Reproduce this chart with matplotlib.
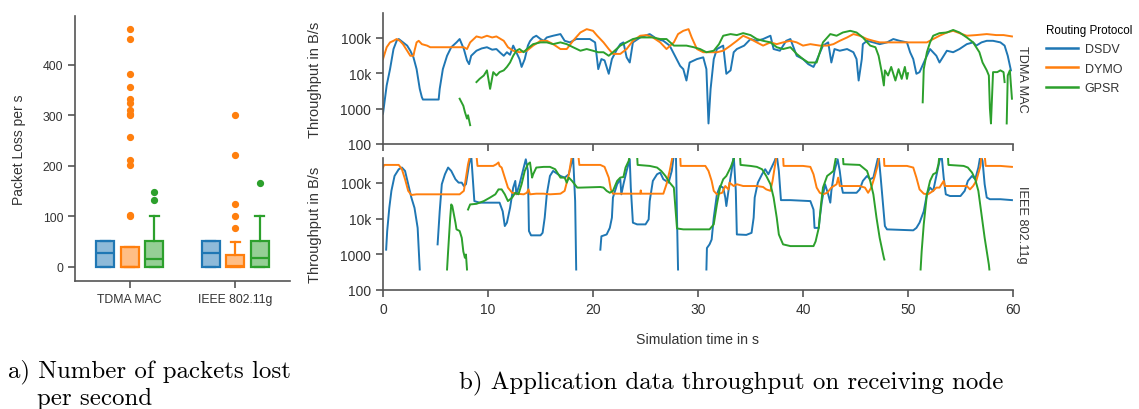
import numpy as np
import matplotlib
matplotlib.use("Agg")
import matplotlib.pyplot as plt
from matplotlib.colors import to_rgba
from matplotlib.lines import Line2D
from matplotlib.ticker import NullLocator

NaN = float("nan")

# ---------------- data ----------------
protocols = ["DSDV", "DYMO", "GPSR"]
colors = ["#1f77b4", "#ff7f0e", "#2ca02c"]
macs = ["TDMA MAC", "IEEE 802.11g"]

# packet loss box statistics, [mac][protocol]
loss_whislo = [[0, 0, 0], [0, 0, 0]]
loss_q1 = [[0, 0, 0], [0, 0, 0]]
loss_med = [[27, 0, 16], [27, 2, 18]]
loss_q3 = [[51, 39, 51], [51, 23, 51]]
loss_whishi = [[51, 39, 100], [51, 49, 100]]
loss_fliers = [
    [[], [472, 451, 383, 357, 333, 324, 310, 303, 300, 258, 212, 201, 103, 101], [148, 132]],
    [[], [300, 222, 125, 101, 77], [167]],
]

# throughput, TDMA MAC
tdma_dsdv_t = [0.0, 0.35, 0.67, 1.0, 1.3, 1.5, 1.9, 2.3, 2.6, 2.9, 3.2, 3.5, 3.7, 3.8, 5.3, 5.4, 5.7, 6.1, 6.5, 7.0,
               7.3, 7.7, 8.0, 8.2, 8.4, 8.9, 9.4, 9.9, 10.4, 10.8, 11.2, 11.5, 11.8, 12.1, 12.4, 13.0, 13.2, 13.5,
               13.8, 14.0, 14.3, 14.6, 15.0, 15.3, 15.6, 16.2, 16.9, 17.3, 17.8, 18.4, 19.1, 19.7, 20.2, 20.5, 20.8,
               21.1, 21.5, 21.8, 22.3, 22.6, 22.9, 23.2, 23.5, 23.8, 24.5, 25.4, 26.1, 26.7, 27.3, 27.8, 28.3, 28.6,
               28.9, 29.2, 29.9, 30.5, 30.8, 31.0, 31.2, 31.5, 31.8, 32.4, 32.7, 33.1, 33.4, 33.7, 34.4, 35.0, 35.6,
               36.2, 36.9, 37.2, 37.8, 38.4, 38.8, 39.4, 40.0, 40.5, 41.0, 41.3, 41.9, 42.4, 42.7, 43.0, 43.5, 44.2,
               44.8, 45.1, 45.3, 45.6, 45.7, 46.1, 46.7, 47.3, 48.0, 48.6, 49.2, 49.9, 50.2, 50.5, 50.8, 51.1, 51.6,
               52.1, 52.7, 53.0, 53.7, 54.3, 54.9, 55.6, 56.2, 56.5, 57.0, 57.5, 58.1, 58.8, 59.2, 59.5, 59.8]
tdma_dsdv_v = [720, 4500, 13000, 48000, 82000, 92000, 74000, 60000, 43000, 28000, 13000, 3600, 2100, 1800, 1800,
               3600, 13000, 31000, 54000, 74000, 92000, 48000, 23000, 18000, 31000, 43000, 50000, 54000, 46000,
               48000, 37000, 31000, 39000, 33000, 60000, 25000, 15000, 25000, 60000, 80000, 102000, 114000, 92000,
               82000, 102000, 114000, 127000, 82000, 74000, 92000, 92000, 92000, 74000, 13000, 25000, 23000, 9600,
               25000, 48000, 66000, 74000, 28000, 20000, 74000, 102000, 127000, 92000, 82000, 60000, 31000, 16000,
               13000, 6200, 20000, 25000, 28000, 13000, 380, 3600, 25000, 48000, 60000, 9600, 12000, 39000, 48000,
               60000, 92000, 82000, 92000, 114000, 48000, 43000, 82000, 92000, 31000, 25000, 18000, 15000, 23000,
               60000, 74000, 20000, 48000, 43000, 48000, 39000, 25000, 6200, 25000, 66000, 82000, 74000, 66000,
               74000, 92000, 82000, 74000, 39000, 25000, 9600, 10700, 23000, 48000, 31000, 20000, 43000, 39000,
               48000, 66000, 74000, 60000, 74000, 82000, 82000, 74000, 60000, 31000, 12000]

tdma_dymo_t = [0.0, 0.35, 0.67, 1.0, 1.3, 1.6, 1.9, 2.3, 2.6, 2.9, 3.0, 3.2, 3.4, 3.7, 4.2, 4.5, 7.7, 8.0, 8.3, 8.9,
               9.4, 9.9, 10.4, 10.8, 11.5, 11.9, 12.4, 13.0, 13.7, 14.3, 15.0, 15.6, 16.2, 16.9, 17.5, 18.1, 18.8,
               19.4, 20.0, 20.4, 21.0, 21.5, 21.9, 22.6, 23.2, 23.8, 24.5, 25.1, 25.7, 26.4, 27.0, 27.7, 28.1, 28.6,
               29.1, 29.4, 29.9, 30.5, 31.1, 31.8, 32.4, 33.1, 33.7, 34.3, 35.0, 35.6, 36.2, 36.9, 37.5, 38.1, 38.8,
               39.4, 40.0, 40.7, 41.6, 42.3, 42.9, 43.5, 44.2, 44.8, 45.4, 46.1, 46.7, 47.3, 48.6, 49.9, 51.2, 51.8,
               52.4, 53.0, 53.7, 54.3, 54.9, 55.6, 56.5, 57.5, 58.4, 59.1, 59.9]
tdma_dymo_v = [25000, 54000, 74000, 82000, 92000, 82000, 66000, 43000, 31000, 31000, 43000, 74000, 82000, 66000,
               60000, 54000, 54000, 48000, 74000, 109000, 100000, 114000, 102000, 109000, 82000, 54000, 43000,
               39000, 43000, 60000, 82000, 82000, 66000, 48000, 48000, 82000, 141000, 175000, 157000, 114000,
               74000, 48000, 35000, 35000, 48000, 82000, 114000, 119000, 102000, 74000, 48000, 74000, 127000,
               157000, 175000, 102000, 48000, 39000, 39000, 39000, 43000, 60000, 82000, 114000, 92000, 74000,
               60000, 74000, 66000, 74000, 82000, 74000, 60000, 66000, 60000, 60000, 66000, 82000, 102000, 127000,
               114000, 92000, 82000, 74000, 74000, 74000, 74000, 74000, 92000, 114000, 141000, 157000, 135000,
               114000, 119000, 127000, 119000, 119000, 109000]

tdma_gpsr_t = [7.3, 7.65, 7.8, 8.0, 8.1, 8.3, 8.6,
               8.9, 9.2, 9.6, 9.9, 10.2, 10.5, 10.8, 11.1, 11.5, 11.8, 12.1, 12.4, 12.7, 13.0, 13.4, 13.7, 14.3,
               15.0, 15.6, 16.2, 16.9, 17.5, 18.1, 18.8, 19.4, 20.0, 20.5, 21.0, 21.5, 21.9, 22.6, 23.2, 23.8, 24.5,
               25.1, 25.7, 26.4, 27.0, 27.7, 28.3, 28.9, 29.6, 30.2, 30.8, 31.5, 32.0, 32.4, 33.1, 33.7, 34.3, 35.0,
               35.6, 36.2, 36.9, 37.5, 38.1, 38.8, 39.4, 40.0, 40.5, 41.0, 41.3, 41.6, 41.9, 42.6, 43.2, 43.8, 44.5,
               45.1, 45.7, 46.4, 46.9, 47.2, 47.5, 47.7, 47.8, 48.1, 48.4, 48.8, 49.1, 49.4, 49.7, 49.9, 50.0, 50.5,
               51.4, 51.5, 51.8, 52.1, 52.4, 53.0, 53.7, 54.3, 54.9, 55.6, 56.2, 56.8, 57.1, 57.5, 57.7, 57.8, 57.9,
               58.1, 58.5, 58.8, 59.1, 59.2, 59.3,
               59.4, 59.5, 59.7, 59.9]
tdma_gpsr_v = [1900, 1200, 800, 520, 650, 340, NaN,
               5600, 6900, 8600, 12000, 3600, 10700, 8600, 10700, 12000, 15000, 20000, 31000, 43000, 48000, 39000,
               48000, 66000, 74000, 74000, 66000, 74000, 66000, 54000, 43000, 48000, 43000, 39000, 39000, 31000,
               39000, 60000, 74000, 92000, 102000, 102000, 102000, 92000, 92000, 60000, 60000, 60000, 54000, 48000,
               39000, 43000, 66000, 114000, 127000, 119000, 135000, 119000, 92000, 82000, 74000, 54000, 48000,
               54000, 35000, 25000, 20000, 20000, 20000, 39000, 74000, 127000, 114000, 141000, 157000, 141000,
               102000, 60000, 54000, 31000, 10700, 4500, 12000, 8600, 15000, 6200, 13000, 6900, 15000, 6900, 10000,
               NaN,
               1500, 13000, 39000, 74000, 114000, 135000, 141000, 166000, 141000, 102000, 74000, 39000, 20000,
               12000, 8600, 1000, 380, 10700, 10700, 12000, 10700, 5600, NaN,
               380, 8600, 12000, 1900]

# throughput, IEEE 802.11g
ieee_dsdv_t = [0.3, 0.4, 0.6, 0.8, 1.1, 1.5, 1.8, 2.1, 2.4, 2.7, 3.0, 3.3, 3.4, 3.5, 4.0,
               5.2, 5.4, 5.6, 5.9, 6.2, 6.5, 6.9, 7.2, 7.5, 7.7, 7.9, 8.2, 8.4, 8.5, 8.7, 9.2, 10.5, 11.1, 11.4,
               11.6, 11.8, 12.1, 12.4, 12.6, 12.7, 13.0, 13.4, 13.6, 13.8, 13.9, 14.1, 15.0, 15.2, 15.4, 15.6, 15.9,
               16.2, 16.9, 17.3, 17.7, 18.0, 18.1, 18.3, 18.4, 19.0,
               20.7, 20.8, 21.3, 21.6, 21.8, 21.9, 22.3, 22.6, 22.7, 22.9, 23.2, 23.5, 23.6, 23.8, 24.2, 25.0, 25.3,
               25.4, 25.7, 26.1, 26.4, 26.7, 27.2, 27.5, 27.7, 27.9, 28.0, 28.1, 29.0,
               30.8, 30.85, 31.1, 31.3, 31.5, 31.8, 32.1, 32.4, 32.6, 32.7, 32.9, 33.2, 33.4, 33.6, 33.7, 34.6, 35.1,
               35.3, 35.4, 35.7, 36.1, 36.4, 36.7, 37.0, 37.3, 37.5, 37.7, 37.9, 38.8, 40.7, 41.0, 41.1, 41.5, 41.6,
               41.8, 42.1, 42.4, 42.6, 42.7, 43.0, 43.3, 43.5, 43.7, 43.8, 45.1, 45.4, 45.7, 46.1, 46.4, 46.7, 47.0,
               47.2, 47.4, 47.7, 47.8, 48.0, 50.5, 50.8, 51.1, 51.5, 51.8, 52.1, 52.4, 52.7, 53.0, 53.2, 53.4, 53.6,
               54.0, 55.0, 55.4, 55.7, 56.1, 56.4, 56.7, 56.9, 57.1, 57.3, 57.5, 57.8, 58.8, 59.9]
ieee_dsdv_v = [1350, 4500, 20000, 60000, 157000, 242000, 270000, 217000, 92000, 39000, 20000, 5500, 1500, 375, NaN,
               1900, 16000, 92000, 175000, 270000, 217000, 127000, 102000, 102000, 82000, 92000, 335000, 600000,
               217000, 31000, 28000, 28000, 28000, 16000, 6200, 7700, 20000, 74000, 114000, 48000, 92000, 270000,
               460000, 217000, 4500, 3400, 3400, 4000, 10600, 48000, 157000, 217000, 157000, 141000, 175000,
               415000, 600000, 31000, 375, NaN,
               1350, 3200, 3600, 5500, 10600, 39000, 92000, 127000, 48000, 92000, 217000, 460000, 74000, 7700,
               6900, 6900, 9500, 31000, 114000, 175000, 195000, 127000, 102000, 217000, 600000, 600000, 10600, 375,
               NaN,
               375, 1500, 1900, 2600, 10600, 48000, 82000, 74000, 39000, 22500, 60000, 217000, 600000, 60000, 3600,
               3500, 4000, 10600, 39000, 102000, 175000, 242000, 175000, 270000, 415000, 600000, 217000, 33000,
               33000, 31000, 18000, 5500, 5500, 10600, 31000, 92000, 48000, 28000, 60000, 217000, 460000, 217000,
               74000, 53000, 53000, 66000, 114000, 157000, 127000, 141000, 335000, 600000, 141000, 13000, 6200,
               5000, 4700, 5500, 7700, 16000, 48000, 74000, 60000, 157000, 415000, 600000, 141000, 48000, 43000,
               43000, 60000, 114000, 157000, 127000, 270000, 600000, 415000, 92000, 39000, 35000, 35000, 33000]

ieee_dymo_t = [0.0, 0.1, 0.7, 1.5, 1.8, 2.1, 2.4, 2.7, 3.2, 4.5, 6.1, 7.3, 7.7, 7.9, 8.1, 8.3, 8.9, 9.0, 10.5, 10.8,
               11.0, 11.1, 11.3, 11.6, 11.9, 12.3, 12.7, 13.4, 13.7, 13.85, 14.0, 14.6, 15.3, 15.9, 16.9, 17.3, 17.7,
               18.0, 18.6, 18.7, 19.4, 20.7, 21.1, 21.5, 21.7, 21.9, 22.9, 24.5, 24.55, 24.6, 26.7, 27.0, 27.3, 27.6,
               28.3, 28.35, 29.2, 30.7, 31.0, 31.3, 31.5, 31.8, 32.3, 32.6, 32.9, 33.0, 33.4, 33.7, 34.3, 35.6, 36.2,
               36.5, 36.9, 37.1, 37.3, 37.5, 38.1, 38.15, 40.0, 40.7, 41.0, 41.3, 41.6, 41.9, 42.3, 42.7, 43.2,
               43.35, 43.5, 43.8, 45.4, 45.9, 46.2, 46.5, 46.8, 47.1, 47.3, 47.7, 47.75, 49.9, 50.5, 50.8, 51.1,
               51.5, 51.9, 52.4, 52.7, 53.0, 53.4, 53.5, 54.0, 55.6, 55.9, 56.2, 56.5, 56.9, 57.0, 57.3, 57.4, 58.8,
               59.9]
ieee_dymo_v = [270000, 320000, 320000, 320000, 242000, 127000, 60000, 46000, 48000, 48000, 48000, 48000, 60000,
               141000, 335000, 600000, 600000, 300000, 300000, 335000, 375000, 300000, 270000, 141000, 74000, 53000,
               50000, 48000, 53000, 66000, 48000, 50000, 50000, 48000, 50000, 60000, 175000, 600000, 600000, 320000,
               320000, 320000, 282000, 141000, 66000, 50000, 50000, 50000, 62000, 50000, 50000, 92000, 217000,
               600000, 600000, 300000, 300000, 300000, 217000, 114000, 60000, 48000, 53000, 82000, 66000, 102000,
               82000, 92000, 82000, 82000, 77000, 66000, 60000, 114000, 270000, 600000, 600000, 300000, 300000,
               282000, 175000, 74000, 53000, 48000, 53000, 74000, 92000, 141000, 82000, 82000, 82000, 74000, 53000,
               74000, 141000, 300000, 600000, 600000, 300000, 300000, 270000, 141000, 66000, 50000, 48000, 60000,
               74000, 74000, 114000, 82000, 82000, 82000, 66000, 82000, 114000, 300000, 600000, 600000, 300000,
               300000, 282000]

ieee_gpsr_t = [6.1, 6.2, 6.4, 6.5, 6.6, 6.9, 7.0, 7.3, 7.5, 7.65, 7.8, 7.9, 8.0, 8.05,
               8.1, 8.3, 8.9, 9.6, 10.2, 10.7, 11.0, 11.3, 11.6, 11.9, 12.3, 12.6, 12.9, 13.2, 13.5, 13.8, 14.0,
               14.2, 14.3, 14.6, 15.3, 15.9, 16.4, 16.9, 17.3, 17.5, 17.7, 18.0, 18.5, 18.8, 20.7, 21.0, 21.3, 21.6,
               21.9, 22.3, 22.6, 22.9, 23.1, 23.4, 23.5, 24.2, 24.25, 25.4, 26.1, 26.5, 26.9, 27.3, 27.7, 27.8, 28.0,
               28.6, 29.9, 31.1, 31.5, 31.8, 32.1, 32.4, 32.7, 33.1, 33.4, 33.5, 34.0, 34.05, 35.0, 35.6, 36.1, 36.5,
               36.9, 37.2, 37.5, 37.7, 37.9, 38.1, 38.8, 40.7, 41.0, 41.2, 41.5, 41.7, 41.9, 42.3, 42.6, 42.9, 43.1,
               43.2, 43.8, 43.85, 45.4, 45.7, 46.1, 46.4, 46.7, 47.0, 47.3, 47.5, 47.7, 47.75, 48.0,
               51.2, 51.3, 51.5, 51.8, 52.1, 52.4, 52.7, 52.9, 53.0, 53.8, 53.85, 55.3, 55.7, 56.1, 56.4, 56.7, 57.0,
               57.3, 57.5, 57.7, 57.75]
ieee_gpsr_v = [375, 1200, 10600, 25000, 22500, 7700, 5000, 4500, 2900, 1200, 800, 990, 375, NaN,
               18000, 25000, 26000, 31000, 39000, 48000, 66000, 66000, 48000, 31000, 39000, 53000, 48000, 92000,
               217000, 335000, 375000, 141000, 175000, 270000, 282000, 282000, 242000, 141000, 141000, 102000,
               141000, 114000, 74000, 74000, 77000, 74000, 60000, 53000, 60000, 114000, 141000, 147000, 270000,
               415000, 600000, 600000, 320000, 300000, 270000, 217000, 157000, 102000, 74000, 31000, 5300, 5000,
               5000, 5000, 6900, 25000, 74000, 127000, 157000, 270000, 460000, 600000, 600000, 320000, 300000,
               282000, 242000, 157000, 92000, 39000, 10600, 3600, 2600, 1900, 1700, 1700, 1700, 2300, 5500, 22500,
               74000, 157000, 183000, 217000, 460000, 600000, 600000, 335000, 320000, 270000, 217000, 114000, 48000,
               10600, 2900, 1500, 800, 715, NaN,
               375, 1200, 6900, 48000, 114000, 175000, 195000, 335000, 600000, 600000, 320000, 300000, 270000,
               195000, 127000, 60000, 13000, 2900, 1200, 515, 375]

tdma_series = [(tdma_dsdv_t, tdma_dsdv_v), (tdma_dymo_t, tdma_dymo_v), (tdma_gpsr_t, tdma_gpsr_v)]
ieee_series = [(ieee_dsdv_t, ieee_dsdv_v), (ieee_dymo_t, ieee_dymo_v), (ieee_gpsr_t, ieee_gpsr_v)]

log_ticks = [100, 1000, 10000, 100000]
log_tick_labels = ["100", "1000", "10k", "100k"]
time_ticks = [0, 10, 20, 30, 40, 50, 60]

# ---------------- styling ----------------
plt.rcParams["font.family"] = ["Liberation Sans", "DejaVu Sans"]
TXT = "#333333"
SPINE = "#555555"
FS = 10

W, H = 1139, 410
fig = plt.figure(figsize=(W / 100, H / 100), dpi=100)


def px_axes(left, top, right, bottom):
    return fig.add_axes([left / W, (H - bottom) / H, (right - left) / W, (bottom - top) / H])


def style(ax, fs):
    for s in ["top", "right"]:
        ax.spines[s].set_visible(False)
    for s in ["left", "bottom"]:
        ax.spines[s].set_color(SPINE)
        ax.spines[s].set_linewidth(1.2)
    ax.tick_params(colors=SPINE, labelcolor=TXT, labelsize=fs, length=5, width=1.2, direction="out")


# ---- left: boxplot ----
axb = px_axes(75, 17, 290, 282)
style(axb, 8.8)
offsets = [-0.233, 0.0, 0.233]
for i, mac in enumerate(macs):
    for j, proto in enumerate(protocols):
        c = colors[j]
        st = dict(whislo=loss_whislo[i][j], q1=loss_q1[i][j], med=loss_med[i][j], q3=loss_q3[i][j],
                  whishi=loss_whishi[i][j], fliers=loss_fliers[i][j])
        axb.bxp([st], positions=[i + offsets[j]], widths=0.17, capwidths=0.085, patch_artist=True,
                boxprops=dict(facecolor=to_rgba(c, 0.5), edgecolor=c, linewidth=1.6),
                medianprops=dict(color=c, linewidth=1.6),
                whiskerprops=dict(color=c, linewidth=1.6),
                capprops=dict(color=c, linewidth=1.6),
                flierprops=dict(marker="o", markerfacecolor=c, markeredgecolor=c, markersize=4.2))
axb.set_xlim(-0.52, 1.52)
axb.set_ylim(-28, 497)
axb.set_xticks([0, 1])
axb.set_xticklabels(macs)
axb.set_yticks([0, 100, 200, 300, 400])
axb.set_ylabel("Packet Loss per s", fontsize=10, color=TXT)
axb.yaxis.set_label_coords(-0.228, 0.5)

# ---- right: throughput ----
ax1 = px_axes(383, 14, 1013, 145)
ax2 = px_axes(383, 159, 1013, 291)
for ax, series, lab in [(ax1, tdma_series, macs[0]), (ax2, ieee_series, macs[1])]:
    style(ax, FS)
    for (t, v), c in zip(series, colors):
        ax.plot(t, v, color=c, lw=1.4)
    ax.set_yscale("log")
    ax.set_ylim(100, 500000)
    ax.set_xlim(0, 60)
    ax.set_yticks(log_ticks)
    ax.set_yticklabels(log_tick_labels)
    ax.yaxis.set_minor_locator(NullLocator())
    ax.set_xticks(time_ticks)
    ax.set_ylabel("Throughput in B/s", fontsize=10.5, color=TXT)
    ax.yaxis.set_label_coords(-0.097, 0.5)
    ax.text(1.004, 0.5, lab, rotation=270, transform=ax.transAxes, ha="left", va="center",
            fontsize=9.2, color=TXT)
ax1.tick_params(axis="x", labelbottom=False)
ax2.set_xlabel("Simulation time in s", fontsize=10.2, color=TXT, labelpad=12)

handles = [Line2D([], [], color=c, lw=1.8) for c in colors]
fig.legend(handles, protocols, title="Routing Protocol", loc="upper left",
           bbox_to_anchor=(1037 / W, 1 - 16 / H), frameon=False, fontsize=9, title_fontsize=8.4,
           handlelength=2.6, handletextpad=0.5, alignment="left", borderpad=0.2, labelspacing=0.6,
           labelcolor=TXT)

# captions
cap = dict(family="cmr10", fontsize=17.9, color="black", va="center")
fig.text(8 / W, (H - 372) / H, "a) Number of packets lost", ha="left", **cap)
fig.text(37 / W, (H - 399) / H, "per second", ha="left", **cap)
fig.text(731 / W, (H - 383) / H, "b) Application data throughput on receiving node", ha="center", **cap)

fig.savefig("out.png", dpi=100)
